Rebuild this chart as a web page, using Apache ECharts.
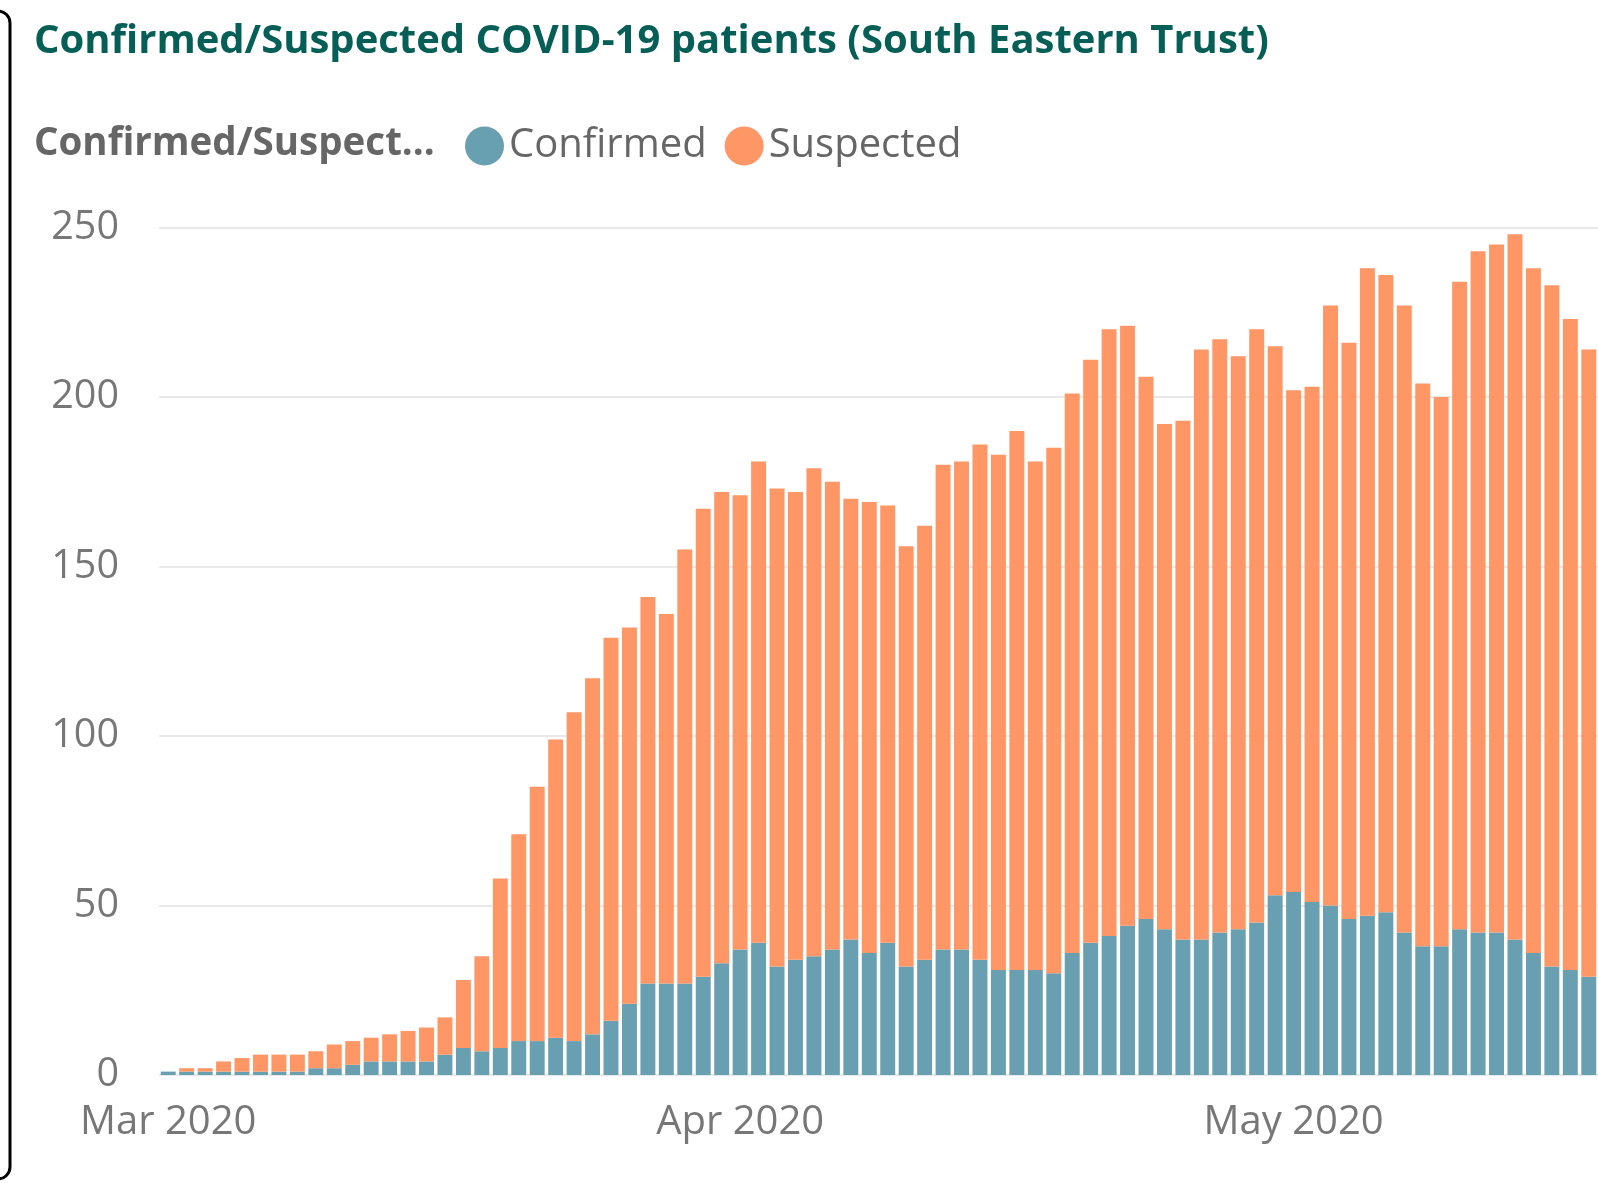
<!DOCTYPE html>
<html>
<head>
<meta charset="utf-8">
<script src="https://cdn.jsdelivr.net/npm/echarts@6/dist/echarts.min.js"></script>
<style>
  html, body { margin: 0; padding: 0; background: #fff; }
  #main { width: 1598px; height: 1183px; }
</style>
</head>
<body>
<div id="main"></div>
<script>
// daily patients, 1 Mar 2020 .. 17 May 2020
const startDate = '2020-03-01'
const dayCount = 78
const confirmed = [
  1, 1, 1, 1, 1, 1, 1, 1, 2, 2, 3, 4, 4, 4, 4, 6, 8, 7, 8, 10,
  10, 11, 10, 12, 16, 21, 27, 27, 27, 29, 33, 37, 39, 32, 34, 35, 37, 40, 36, 39,
  32, 34, 37, 37, 34, 31, 31, 31, 30, 36, 39, 41, 44, 46, 43, 40, 40, 42, 43, 45,
  53, 54, 51, 50, 46, 47, 48, 42, 38, 38, 43, 42, 42, 40, 36, 32, 31, 29
]
const suspected = [
  0, 1, 1, 3, 4, 5, 5, 5, 5, 7, 7, 7, 8, 9, 10, 11, 20, 28, 50, 61,
  75, 88, 97, 105, 113, 111, 114, 109, 128, 138, 139, 134, 142, 141, 138, 144, 138, 130, 133, 129,
  124, 128, 143, 144, 152, 152, 159, 150, 155, 165, 172, 179, 177, 160, 149, 153, 174, 175, 169, 175,
  162, 148, 152, 177, 170, 191, 188, 185, 166, 162, 191, 201, 203, 208, 202, 201, 192, 185
]
const monthLabels = { '03': 'Mar 2020', '04': 'Apr 2020', '05': 'May 2020' }
const yTicks = { min: 0, max: 250, interval: 50 }

const days = []
for (let i = 0; i < dayCount; i++) {
  const d = new Date(startDate + 'T00:00:00Z')
  d.setUTCDate(d.getUTCDate() + i)
  days.push(d.toISOString().slice(0, 10))
}

const font = '"Open Sans", "Noto Sans", sans-serif'
const isMonthStart = (idx, val) => val.slice(8) === '01'

let option = {
  backgroundColor: '#fff',
  animation: false,
  title: [{
    text: 'Confirmed/Suspected COVID-19 patients (South Eastern Trust)',
    left: 29,
    top: 17,
    textStyle: { fontFamily: font, fontWeight: 'bold', fontSize: 40, color: '#065f56' }
  }, {
    text: 'Confirmed/Suspect...',
    left: 29,
    top: 120,
    textStyle: { fontFamily: font, fontWeight: 'bold', fontSize: 38.5, color: '#666' }
  }],
  legend: {
    left: 460,
    top: 121,
    icon: 'circle',
    itemWidth: 39,
    itemHeight: 39,
    itemGap: 18,
    textStyle: { fontFamily: font, fontSize: 40, color: '#666' },
    data: ['Confirmed', 'Suspected']
  },
  grid: {
    left: 159,
    top: 227.5,
    width: 1441,
    height: 847.5,
    containLabel: false
  },
  xAxis: {
    type: 'category',
    data: days,
    boundaryGap: true,
    axisLine: { show: false },
    axisTick: { show: false },
    axisLabel: {
      interval: isMonthStart,
      formatter: (val) => monthLabels[val.slice(5, 7)],
      fontFamily: font,
      fontSize: 40,
      color: '#777',
      margin: 28
    }
  },
  yAxis: {
    type: 'value',
    min: yTicks.min,
    max: yTicks.max,
    interval: yTicks.interval,
    axisLine: { show: false },
    axisTick: { show: false },
    axisLabel: { fontFamily: font, fontSize: 39.5, color: '#777', margin: 40 },
    splitLine: { lineStyle: { color: '#e9e9e9', width: 2 } }
  },
  series: [{
    name: 'Confirmed',
    type: 'bar',
    stack: 'patients',
    data: confirmed,
    barCategoryGap: '19%',
    itemStyle: { color: '#689fb1' }
  }, {
    name: 'Suspected',
    type: 'bar',
    stack: 'patients',
    data: suspected,
    barCategoryGap: '19%',
    itemStyle: { color: '#fe9666' }
  }],
  graphic: [{
    // edge of the neighbouring visual's border
    type: 'rect',
    shape: { x: -60, y: 11, width: 70, height: 1168, r: 12 },
    style: { fill: 'none', stroke: '#000', lineWidth: 3 },
    silent: true
  }]
}

let myChart = echarts.init(document.getElementById('main'))
myChart.setOption(option)
</script>
</body>
</html>
